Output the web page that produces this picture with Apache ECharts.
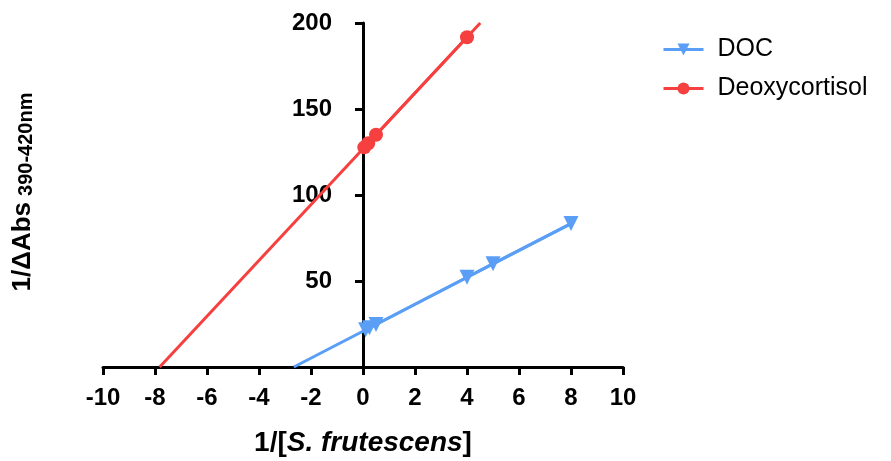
<!DOCTYPE html>
<html>
<head>
<meta charset="utf-8">
<script src="https://cdn.jsdelivr.net/npm/echarts@6/dist/echarts.min.js"></script>
<style>
  html, body { margin: 0; padding: 0; background: #fff; }
  #chart { width: 891px; height: 461px; }
</style>
</head>
<body>
<div id="chart"></div>
<script>
// Double-reciprocal (Lineweaver-Burk style) plot for two substrates
const xTicks = { min: -10, max: 10, step: 2 };
const yTicks = { min: 0, max: 200, step: 50 };

// Measured points: 1/[S] vs 1/ΔAbs
const docX = [0.1, 0.25, 0.5, 4, 5, 8];
const docY = [21.6, 22.8, 24.7, 52.2, 60.1, 83.4];
const deoX = [0.05, 0.2, 0.5, 4];
const deoY = [127.7, 130.1, 135.0, 191.7];

// Fitted lines, from the x-intercept to the end of the drawn range
const docFitX = [-2.66, 8];
const docFitY = [0, 83.4];
const deoFitX = [-7.82, 4.51];
const deoFitY = [0, 200];

const BLUE = '#5A9FF5';
const RED = '#F5403F';
const FONT = '"Liberation Sans", Arial, Helvetica, sans-serif';

const GRID_LEFT = 103, GRID_RIGHT = 268;
const pairs = (xs, ys) => xs.map((x, i) => [x, ys[i]]);

const chart = echarts.init(document.getElementById('chart'), null, { renderer: 'canvas' });

// The y axis crosses the x axis at x = 0
const plotWidth = 891 - GRID_LEFT - GRID_RIGHT;
const yAxisShift = plotWidth * (0 - xTicks.min) / (xTicks.max - xTicks.min);

chart.setOption({
  animation: false,
  backgroundColor: '#fff',
  grid: {
    left: GRID_LEFT, right: GRID_RIGHT, top: 23, bottom: 94,
    containLabel: false, outerBoundsMode: 'none'
  },
  legend: {
    data: ['DOC', 'Deoxycortisol'],
    orient: 'vertical',
    left: 657,
    top: 32,
    itemWidth: 40,
    itemHeight: 15,
    itemGap: 14,
    lineStyle: { width: 3 },
    textStyle: { fontFamily: FONT, fontSize: 25, color: '#000', padding: [0, 0, 0, 9] }
  },
  xAxis: {
    type: 'value',
    min: xTicks.min, max: xTicks.max, interval: xTicks.step,
    axisLine: { lineStyle: { color: '#000', width: 3 } },
    axisTick: { length: 8, lineStyle: { color: '#000', width: 3 } },
    axisLabel: { color: '#000', fontFamily: FONT, fontWeight: 'bold', fontSize: 24, margin: 19 },
    splitLine: { show: false },
    name: '{n|1/[}{i|S. frutescens}{n|]}',
    nameLocation: 'middle',
    nameGap: 62,
    nameTextStyle: {
      rich: {
        n: { fontFamily: FONT, fontWeight: 'bold', fontSize: 28, color: '#000' },
        i: { fontFamily: FONT, fontWeight: 'bold', fontStyle: 'italic', fontSize: 28, color: '#000' }
      }
    }
  },
  yAxis: {
    type: 'value',
    min: yTicks.min, max: yTicks.max, interval: yTicks.step,
    offset: -yAxisShift,
    axisLine: { onZero: false, lineStyle: { color: '#000', width: 3 } },
    axisTick: { length: 8, lineStyle: { color: '#000', width: 3 } },
    axisLabel: { color: '#000', fontFamily: FONT, fontWeight: 'bold', fontSize: 24, margin: 31, showMinLabel: false },
    splitLine: { show: false }
  },
  graphic: [{
    type: 'text',
    x: 23,
    y: 192,
    rotation: Math.PI / 2,
    style: {
      text: '{m|1/ΔAbs}{s|390-420nm}',
      rich: {
        m: { fontFamily: FONT, fontWeight: 'bold', fontSize: 26, fill: '#000', verticalAlign: 'bottom', padding: [0, 6, 0, 0] },
        s: { fontFamily: FONT, fontWeight: 'bold', fontSize: 20, fill: '#000', verticalAlign: 'bottom' }
      },
      align: 'center',
      verticalAlign: 'middle'
    }
  }],
  series: [
    {
      name: 'DOC fit', type: 'line', data: pairs(docFitX, docFitY),
      symbol: 'none', lineStyle: { color: BLUE, width: 3 }, z: 2, silent: true
    },
    {
      name: 'Deoxycortisol fit', type: 'line', data: pairs(deoFitX, deoFitY),
      symbol: 'none', lineStyle: { color: RED, width: 3 }, z: 2, silent: true
    },
    {
      name: 'DOC', type: 'line', data: pairs(docX, docY),
      symbol: 'triangle', symbolRotate: 180, symbolSize: 15,
      itemStyle: { color: BLUE }, lineStyle: { color: BLUE, width: 3 }, z: 3
    },
    {
      name: 'Deoxycortisol', type: 'line', data: pairs(deoX, deoY),
      symbol: 'circle', symbolSize: 14,
      itemStyle: { color: RED }, lineStyle: { color: RED, width: 3 }, z: 3
    }
  ]
});
</script>
</body>
</html>
